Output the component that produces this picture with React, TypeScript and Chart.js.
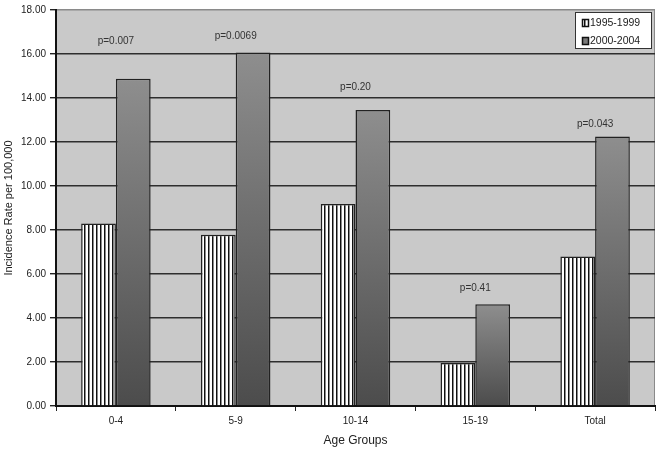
import React, { useEffect, useRef } from "react";
import { Chart, registerables } from "chart.js";
Chart.register(...registerables);

const categories = ["0-4", "5-9", "10-14", "15-19", "Total"];
const seriesNames = ["1995-1999", "2000-2004"];
const series1995 = [8.3, 7.78, 9.18, 1.95, 6.8];
const series2000 = [14.87, 16.07, 13.45, 4.62, 12.25];
const pLabels = ["p=0.007", "p=0.0069", "p=0.20", "p=0.41", "p=0.043"];
const pLabelValues = [16.6, 16.8, 14.5, 5.35, 12.8];
const yMin = 0;
const yMax = 18;
const yStep = 2;
const yTitle = "Incidence Rate per 100,000";
const xTitle = "Age Groups";

const FONT = "'Liberation Sans', Arial, sans-serif";

function makeStripePattern(): CanvasPattern | string {
  const c = document.createElement("canvas");
  c.width = 4;
  c.height = 4;
  const g = c.getContext("2d");
  if (!g) return "#fff";
  g.fillStyle = "#ffffff";
  g.fillRect(0, 0, 4, 4);
  g.fillStyle = "#111111";
  g.fillRect(0, 0, 1, 4);
  g.fillStyle = "#8a8a8a";
  g.fillRect(1, 0, 1, 4);
  const p = g.createPattern(c, "repeat");
  return p || "#fff";
}

export default function App() {
  const ref = useRef<HTMLCanvasElement | null>(null);
  useEffect(() => {
    if (!ref.current) return;
    const stripes = makeStripePattern();

    const bgPlugin = {
      id: "bgPlugin",
      beforeDraw(chart: any) {
        const { ctx, chartArea } = chart;
        if (!chartArea) return;
        ctx.save();
        ctx.fillStyle = "#c9c9c9";
        ctx.fillRect(chartArea.left, chartArea.top, chartArea.right - chartArea.left, chartArea.bottom - chartArea.top);
        ctx.strokeStyle = "#8a8a8a";
        ctx.lineWidth = 1;
        ctx.beginPath();
        ctx.moveTo(chartArea.right - 0.5, chartArea.top);
        ctx.lineTo(chartArea.right - 0.5, chartArea.bottom);
        ctx.stroke();
        ctx.restore();
      },
    };

    const pPlugin = {
      id: "pPlugin",
      afterDatasetsDraw(chart: any) {
        const { ctx } = chart;
        const xs = chart.scales.x;
        const ys = chart.scales.y;
        ctx.save();
        ctx.font = `10px ${FONT}`;
        ctx.fillStyle = "#333";
        ctx.textAlign = "center";
        ctx.textBaseline = "middle";
        pLabels.forEach((t, i) => {
          ctx.fillText(t, xs.getPixelForValue(i), ys.getPixelForValue(pLabelValues[i]));
        });
        ctx.restore();
      },
    };

    const legendPlugin = {
      id: "legendPlugin",
      afterDraw(chart: any) {
        const { ctx } = chart;
        ctx.save();
        const x = 575.5, y = 12.5, w = 76, h = 36;
        ctx.fillStyle = "#ffffff";
        ctx.fillRect(x, y, w, h);
        ctx.strokeStyle = "#333";
        ctx.lineWidth = 1;
        ctx.strokeRect(x, y, w, h);
        const rows = [23, 41];
        rows.forEach((ry, i) => {
          ctx.fillStyle = i === 0 ? (stripes as any) : "#7a7a7a";
          ctx.fillRect(582.5, ry - 3.5, 6, 7);
          ctx.strokeStyle = "#111";
          ctx.lineWidth = 1.5;
          ctx.strokeRect(582.5, ry - 3.5, 6, 7);
          ctx.fillStyle = "#222";
          ctx.font = `10.5px ${FONT}`;
          ctx.textAlign = "left";
          ctx.textBaseline = "middle";
          ctx.fillText(seriesNames[i], 590, ry + 0.5);
        });
        ctx.restore();
      },
    };

    const chart = new Chart(ref.current, {
      type: "bar",
      data: {
        labels: categories,
        datasets: [
          {
            label: seriesNames[0],
            data: series1995,
            backgroundColor: stripes as any,
            borderColor: "#222",
            borderWidth: 1.5,
            categoryPercentage: 0.58,
            barPercentage: 1,
          },
          {
            label: seriesNames[1],
            data: series2000,
            backgroundColor: (c: any) => {
              const ch = c.chart;
              const ys = ch.scales && ch.scales.y;
              if (!ys || c.type !== "data") return "#777";
              const top = ys.getPixelForValue(c.raw);
              const bottom = ys.getPixelForValue(0);
              if (!isFinite(top) || !isFinite(bottom) || top === bottom) return "#777";
              const g = ch.ctx.createLinearGradient(0, top, 0, bottom);
              g.addColorStop(0, "#8e8e8e");
              g.addColorStop(1, "#4c4c4c");
              return g;
            },
            borderColor: "#222",
            borderWidth: 1.5,
            categoryPercentage: 0.58,
            barPercentage: 1,
          },
        ],
      },
      options: {
        animation: false,
        responsive: true,
        maintainAspectRatio: false,
        layout: { padding: { top: 7, right: 6, left: 0, bottom: 0 } },
        plugins: { legend: { display: false }, tooltip: { enabled: false } },
        scales: {
          x: {
            afterFit: (s: any) => {
              s.height = 45;
            },
            grid: { drawOnChartArea: false, drawTicks: true, tickLength: 5, tickColor: "#222", offset: true },
            border: { color: "#111", width: 2 },
            ticks: { color: "#222", font: { family: FONT, size: 10 }, padding: 4, maxRotation: 0 },
            title: { display: true, text: xTitle, color: "#222", font: { family: FONT, size: 12 }, padding: { top: 4, bottom: 3 } },
          },
          y: {
            min: yMin,
            max: yMax,
            afterFit: (s: any) => {
              s.width = 56;
            },
            ticks: {
              stepSize: yStep,
              color: "#222",
              font: { family: FONT, size: 10 },
              padding: 4,
              callback: (v: any) => Number(v).toFixed(2),
            },
            grid: {
              color: (c: any) => (c.tick && c.tick.value === yMax ? "#8a8a8a" : "#2e2e2e"),
              lineWidth: 1.4,
              tickLength: 6,
              tickColor: "#222",
            },
            border: { color: "#111", width: 2 },
            title: { display: true, text: yTitle, color: "#222", font: { family: FONT, size: 11 }, padding: { top: 2, bottom: 0 } },
          },
        },
      },
      plugins: [bgPlugin, pPlugin, legendPlugin],
    });
    return () => chart.destroy();
  }, []);

  return (
    <div style={{ position: "fixed", left: 0, top: 0, width: 661, height: 451, background: "#fff" }}>
      <canvas ref={ref} />
    </div>
  );
}
